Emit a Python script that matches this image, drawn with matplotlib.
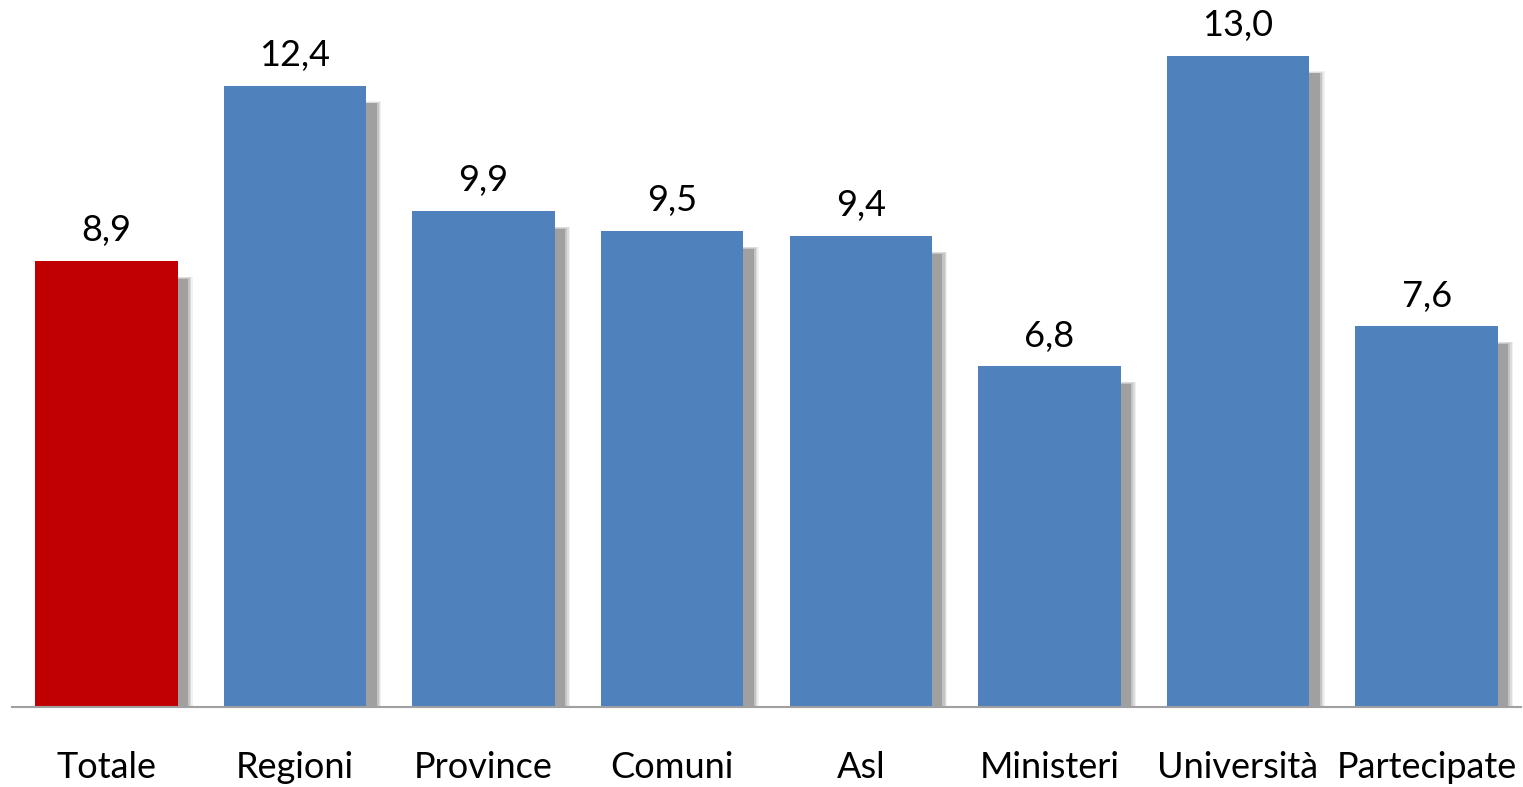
import matplotlib.pyplot as plt
import matplotlib.patheffects as pe

categories = ['Totale', 'Regioni', 'Province', 'Comuni', 'Asl', 'Ministeri', 'Università', 'Partecipate']
values = [8.9, 12.4, 9.9, 9.5, 9.4, 6.8, 13.0, 7.6]
colors = ['#C00000'] + ['#4F81BD'] * 7

plt.rcParams['font.family'] = ['Lato', 'DejaVu Sans']

fig = plt.figure(figsize=(15.23, 7.87), dpi=100)
ax = fig.add_axes([12 / 1523, 80 / 787, 1509 / 1523, 676 / 787])

# soft gray drop shadow, faked with a few stacked offsets
shadow = [
    pe.SimplePatchShadow(offset=(11.0, -11.0), shadow_rgbFace='#f0f0f0', alpha=1.0),
    pe.SimplePatchShadow(offset=(10.0, -11.5), shadow_rgbFace='#dcdcdc', alpha=1.0),
    pe.SimplePatchShadow(offset=(9.0, -12.0), shadow_rgbFace='#c4c4c4', alpha=1.0),
    pe.SimplePatchShadow(offset=(7.5, -12.5), shadow_rgbFace='#a0a0a0', alpha=1.0),
    pe.Normal(),
]

x = range(len(categories))
bars = ax.bar(x, values, width=0.755, color=colors, zorder=3)
for b in bars:
    b.set_path_effects(shadow)

for i, v in enumerate(values):
    ax.annotate(f'{v:.1f}'.replace('.', ','), (i, v), xytext=(0, 10),
                textcoords='offset points', ha='center', va='bottom', fontsize=26)

ax.set_xlim(-0.5, 7.5)
ax.set_ylim(0, 13.5)
ax.set_xticks(list(x))
ax.set_xticklabels(categories, fontsize=26)
ax.tick_params(axis='x', length=0, pad=32)
ax.set_yticks([])
for s in ['top', 'right', 'left']:
    ax.spines[s].set_visible(False)
ax.spines['bottom'].set_color('#a0a0a0')
ax.spines['bottom'].set_linewidth(1.5)
ax.spines['bottom'].set_zorder(4)

fig.savefig('out.png', dpi=100)
